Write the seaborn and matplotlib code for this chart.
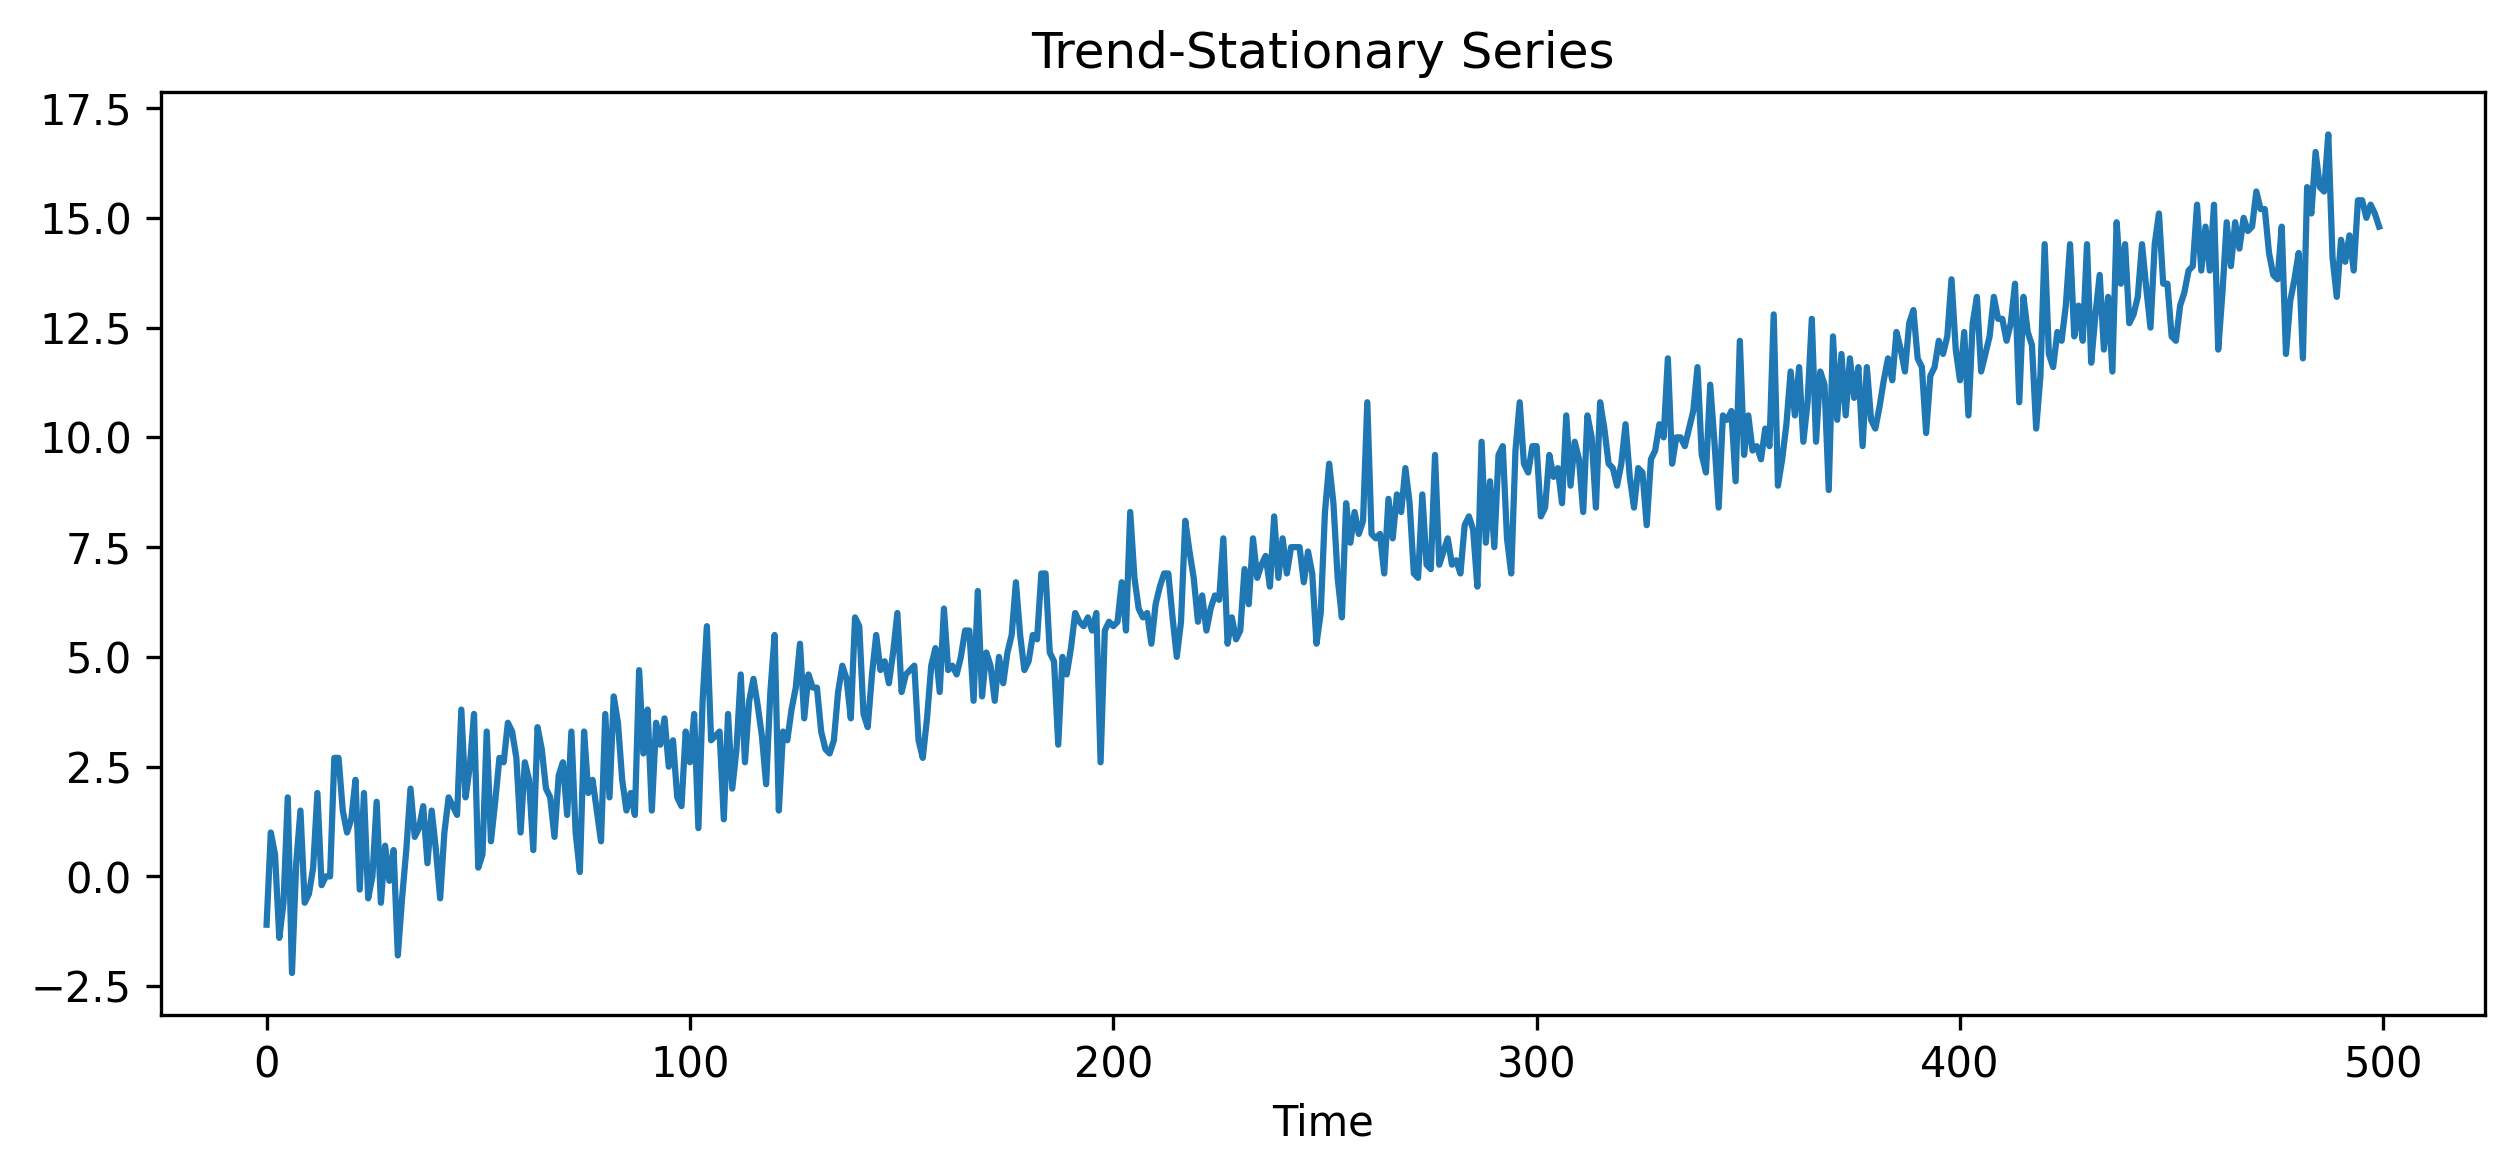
import numpy as np
import pandas as pd
import matplotlib
matplotlib.use("Agg")
import matplotlib.pyplot as plt
import seaborn as sns

# values, 10 per row
values = [
    -1.1, 1.0, 0.5, -1.4, -0.6, 1.8, -2.2, 0.3, 1.5, -0.6,
    -0.4, 0.2, 1.9, -0.2, 0.0, 0.0, 2.7, 2.7, 1.5, 1.0,
    1.3, 2.2, -0.3, 1.9, -0.5, 0.0, 1.7, -0.6, 0.7, -0.1,
    0.6, -1.8, -0.5, 0.6, 2.0, 0.9, 1.1, 1.6, 0.3, 1.5,
    0.6, -0.5, 1.0, 1.8, 1.6, 1.4, 3.8, 1.8, 2.5, 3.7,
    0.2, 0.5, 3.3, 0.8, 1.7, 2.7, 2.6, 3.5, 3.3, 2.7,
    1.0, 2.6, 2.2, 0.6, 3.4, 2.9, 2.0, 1.8, 0.9, 2.3,
    2.6, 1.4, 3.3, 1.0, 0.1, 3.3, 1.9, 2.2, 1.5, 0.8,
    3.7, 1.8, 4.1, 3.5, 2.2, 1.5, 1.9, 1.4, 4.7, 2.8,
    3.8, 1.5, 3.5, 3.0, 3.6, 2.5, 3.1, 1.8, 1.6, 3.3,
    2.6, 3.7, 1.1, 4.0, 5.7, 3.1, 3.2, 3.3, 1.3, 3.7,
    2.0, 2.9, 4.6, 2.6, 4.0, 4.5, 3.9, 3.2, 2.1, 4.2,
    5.5, 1.5, 3.3, 3.1, 3.8, 4.3, 5.3, 3.6, 4.6, 4.3,
    4.3, 3.3, 2.9, 2.8, 3.1, 4.2, 4.8, 4.5, 3.6, 5.9,
    5.7, 3.7, 3.4, 4.6, 5.5, 4.7, 4.9, 4.4, 5.1, 6.0,
    4.2, 4.6, 4.7, 4.8, 3.1, 2.7, 3.6, 4.8, 5.2, 4.2,
    6.1, 4.7, 4.8, 4.6, 5.0, 5.6, 5.6, 4.0, 6.5, 4.1,
    5.1, 4.8, 4.0, 5.0, 4.4, 5.1, 5.5, 6.7, 5.5, 4.7,
    4.9, 5.5, 5.4, 6.9, 6.9, 5.1, 4.9, 3.0, 5.0, 4.6,
    5.2, 6.0, 5.8, 5.7, 5.9, 5.6, 6.0, 2.6, 5.6, 5.8,
    5.7, 5.8, 6.7, 5.6, 8.3, 6.8, 6.1, 5.9, 6.0, 5.3,
    6.2, 6.6, 6.9, 6.9, 5.9, 5.0, 5.8, 8.1, 7.4, 6.8,
    5.8, 6.4, 5.6, 6.1, 6.4, 6.3, 7.7, 5.3, 5.9, 5.4,
    5.6, 7.0, 6.2, 7.7, 6.8, 7.1, 7.3, 6.6, 8.2, 6.8,
    7.7, 6.9, 7.5, 7.5, 7.5, 6.7, 7.4, 6.9, 5.3, 6.0,
    8.3, 9.4, 8.5, 6.8, 5.9, 8.5, 7.6, 8.3, 7.8, 8.1,
    10.8, 7.8, 7.7, 7.8, 6.9, 8.6, 7.7, 8.7, 8.3, 9.3,
    8.5, 6.9, 6.8, 8.7, 7.1, 7.0, 9.6, 7.1, 7.4, 7.7,
    7.1, 7.2, 6.9, 8.0, 8.2, 7.9, 6.6, 9.9, 7.6, 9.0,
    7.5, 9.6, 9.8, 7.7, 6.9, 9.7, 10.8, 9.4, 9.2, 9.8,
    9.8, 8.2, 8.4, 9.6, 9.1, 9.3, 8.5, 10.5, 8.9, 9.9,
    9.5, 8.3, 10.5, 10.0, 8.4, 10.8, 10.2, 9.4, 9.3, 8.9,
    9.4, 10.3, 9.1, 8.4, 9.3, 9.2, 8.0, 9.5, 9.7, 10.3,
    10.0, 11.8, 9.4, 10.0, 10.0, 9.8, 10.2, 10.6, 11.6, 9.6,
    9.2, 11.2, 9.9, 8.4, 10.5, 10.4, 10.6, 9.0, 12.2, 9.6,
    10.5, 9.7, 9.8, 9.5, 10.2, 9.8, 12.8, 8.9, 9.5, 10.3,
    11.5, 10.5, 11.6, 9.9, 10.8, 12.7, 9.9, 11.5, 11.2, 8.8,
    12.3, 10.4, 11.9, 10.5, 11.8, 10.9, 11.6, 9.8, 11.6, 10.4,
    10.2, 10.7, 11.3, 11.8, 11.3, 12.4, 12.0, 11.5, 12.6, 12.9,
    11.8, 11.6, 10.1, 11.4, 11.6, 12.2, 11.9, 12.3, 13.6, 12.0,
    11.3, 12.4, 10.5, 12.6, 13.2, 11.5, 11.9, 12.3, 13.2, 12.7,
    12.7, 12.2, 12.6, 13.5, 10.8, 13.2, 12.4, 12.1, 10.2, 11.4,
    14.4, 11.9, 11.6, 12.4, 12.2, 13.0, 14.4, 12.3, 13.0, 12.2,
    14.4, 11.7, 12.8, 13.7, 12.0, 13.2, 11.5, 14.9, 13.5, 14.4,
    12.6, 12.8, 13.2, 14.4, 13.4, 12.5, 14.4, 15.1, 13.5, 13.5,
    12.3, 12.2, 13.0, 13.3, 13.8, 13.9, 15.3, 13.8, 14.8, 13.8,
    15.3, 12.0, 13.3, 14.9, 13.9, 14.9, 14.3, 15.0, 14.7, 14.8,
    15.6, 15.2, 15.2, 14.2, 13.7, 13.6, 14.8, 11.9, 13.1, 13.6,
    14.2, 11.8, 15.7, 15.1, 16.5, 15.7, 15.6, 16.9, 14.1, 13.2,
    14.5, 14.0, 14.6, 13.8, 15.4, 15.4, 15.0, 15.3, 15.1, 14.8,
]
time = np.arange(len(values))

df = pd.DataFrame({"Time": time, "value": values})

fig, ax = plt.subplots(figsize=(8.383, 3.907), dpi=300)
sns.lineplot(data=df, x="Time", y="value", color="#1f77b4", linewidth=1.5, ax=ax)
ax.set_title("Trend-Stationary Series")
ax.set_xlabel("Time")
ax.set_ylabel("")
plt.subplots_adjust(left=0.064, right=0.988, top=0.921, bottom=0.134)
plt.savefig("out.png", dpi=300)
